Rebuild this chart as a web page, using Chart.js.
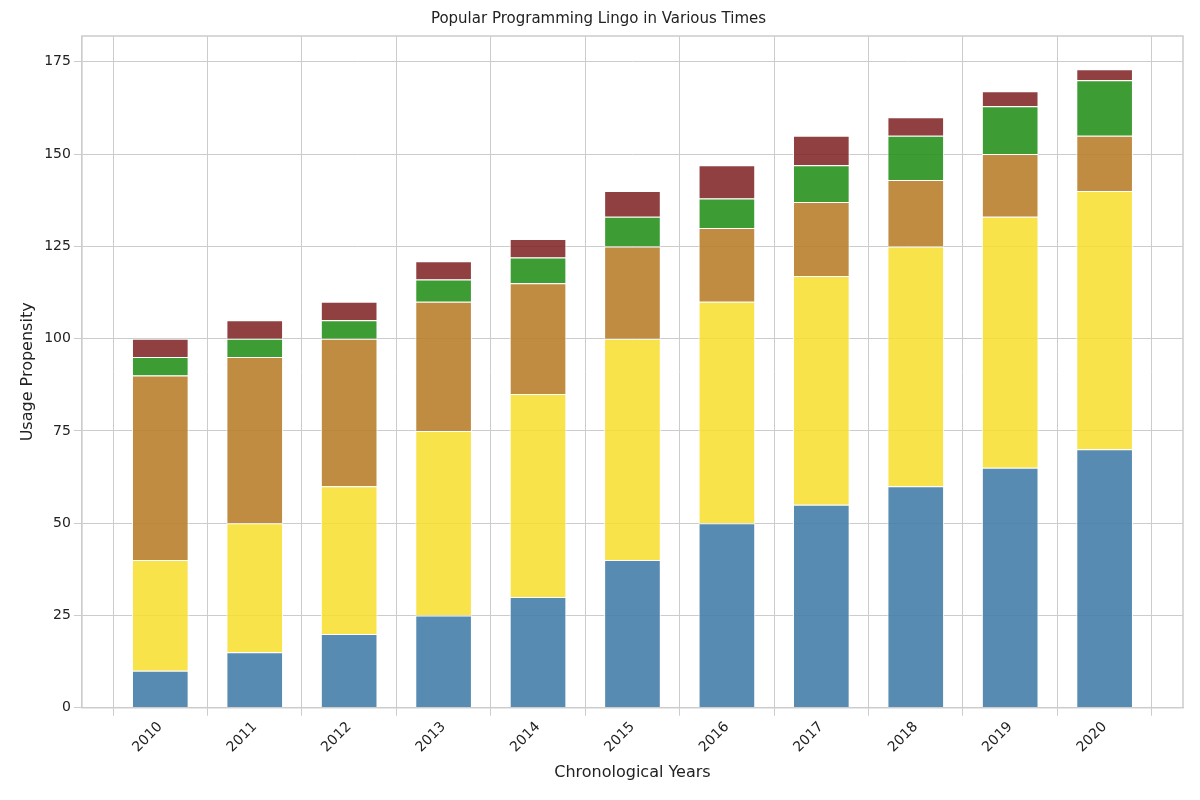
<!DOCTYPE html>
<html><head><meta charset="utf-8">
<script src="https://cdn.jsdelivr.net/npm/chart.js@4"></script>
<style>body{margin:0;background:#fff}#wrap{width:1200px;height:800px}</style>
</head><body><div id="wrap"><canvas id="c"></canvas></div>
<script>
var years=[2010,2011,2012,2013,2014,2015,2016,2017,2018,2019,2020];
var s1=[10,15,20,25,30,40,50,55,60,65,70];
var s2=[30,35,40,50,55,60,60,62,65,68,70];
var s3=[50,45,40,35,30,25,20,20,18,17,15];
var s4=[5,5,5,6,7,8,8,10,12,13,15];
var s5=[5,5,5,5,5,7,9,8,5,4,3];
var cols=['rgba(70,126,168,0.9)','rgba(247,222,44,0.85)','rgba(184,128,45,0.9)','rgba(40,145,30,0.9)','rgba(125,30,30,0.85)'];
var all=[s1,s2,s3,s4,s5];
var ds=all.map(function(d,i){return {data:d.map(function(v,j){return {x:years[j],y:v};}),backgroundColor:cols[i],borderColor:'#fff',borderWidth:1,barPercentage:0.6,categoryPercentage:1};});
Chart.defaults.font.family='DejaVu Sans';
Chart.defaults.color='#222';
var frame={id:'frame',afterDraw:function(ch){var a=ch.chartArea,c=ch.ctx;c.save();c.strokeStyle='#ccc';c.lineWidth=1.5;c.strokeRect(a.left,a.top,a.right-a.left,a.bottom-a.top);c.restore();}};
new Chart(document.getElementById('c'),{
  type:'bar',
  data:{datasets:ds},
  plugins:[frame],
  options:{
    responsive:true,maintainAspectRatio:false,animation:false,
    layout:{padding:{left:14,right:17,top:4,bottom:14}},
    plugins:{legend:{display:false},
      title:{display:true,text:'Popular Programming Lingo in Various Times',font:{size:15,weight:'normal'},padding:{top:6,bottom:8}}},
    scales:{
      x:{type:'linear',stacked:true,min:2009.17,max:2020.83,offset:false,grid:{color:'#ccc'},border:{color:'#ccc'},
        afterBuildTicks:function(a){a.ticks=years.map(function(v){return {value:v};});},
        ticks:{maxRotation:45,minRotation:45,font:{size:14},callback:function(v){return String(v);}},
        title:{display:true,text:'Chronological Years',font:{size:16}}},
      y:{stacked:true,min:0,max:182,grid:{color:'#ccc'},border:{color:'#ccc'},
        ticks:{font:{size:14}},
        afterBuildTicks:function(a){a.ticks=[0,25,50,75,100,125,150,175].map(function(v){return {value:v};});},
        title:{display:true,text:'Usage Propensity',font:{size:16}}}
    }
  }
});
</script></body></html>
